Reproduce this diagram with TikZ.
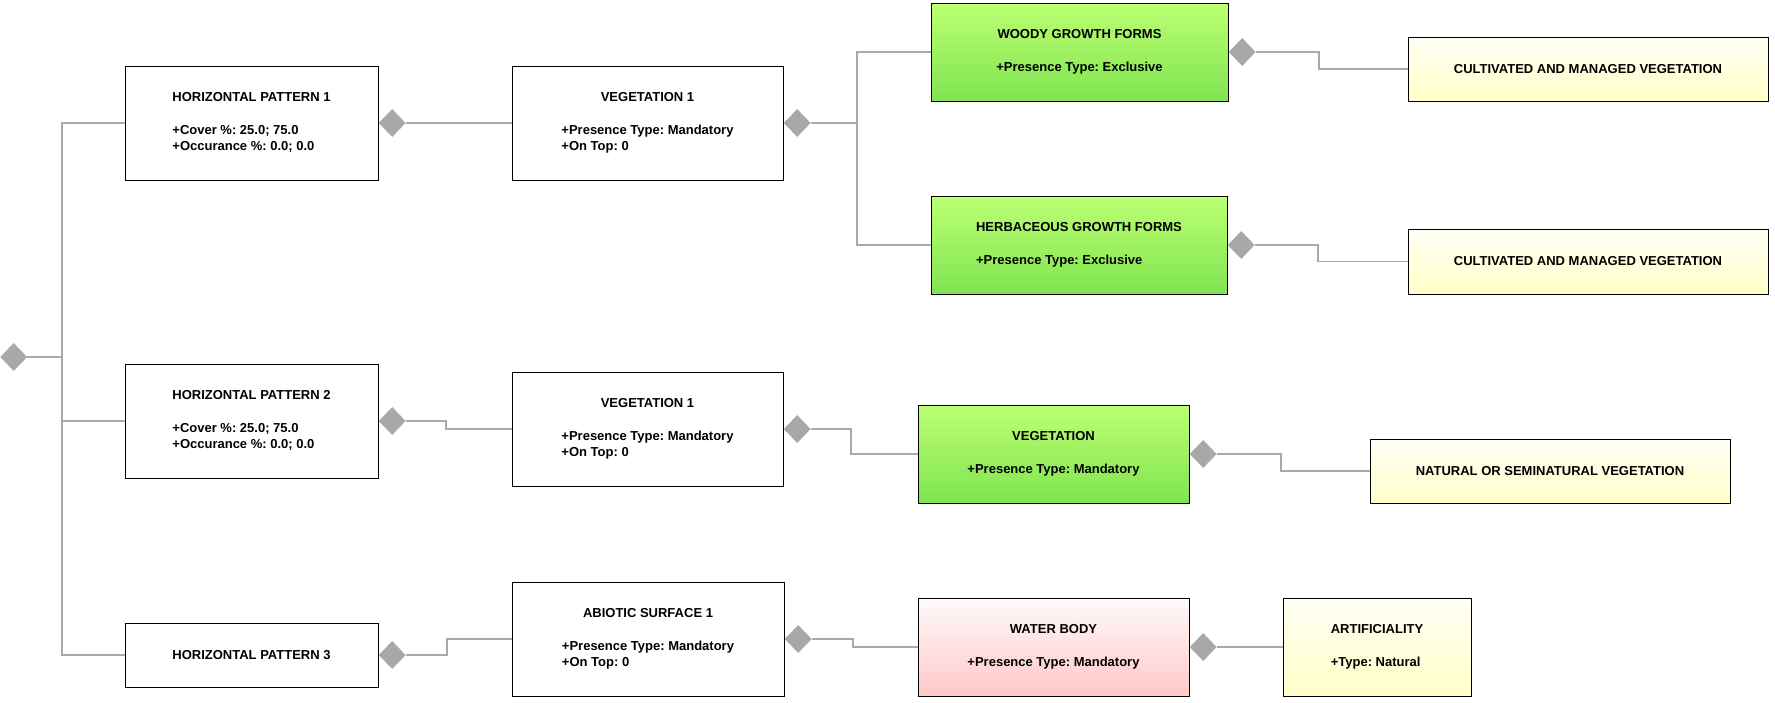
\documentclass[tikz,border=0pt]{standalone}
\usepackage{fontspec}
\setmainfont{Liberation Sans}
\frenchspacing
\usetikzlibrary{shapes.geometric}
\definecolor{linegray}{RGB}{170,170,170}
\definecolor{diagray}{RGB}{168,168,168}
\definecolor{greentop}{RGB}{188,255,115}
\definecolor{greenbot}{RGB}{128,228,80}
\definecolor{yeltop}{RGB}{255,255,245}
\definecolor{yelbot}{RGB}{255,255,200}
\definecolor{pinktop}{RGB}{255,250,250}
\definecolor{pinkbot}{RGB}{255,200,200}
\newcommand{\umltext}[2]{\begin{tabular}{@{}l@{}}\multicolumn{1}{@{}c@{}}{#1}\\[17pt] #2\end{tabular}}
\begin{document}
\begin{tikzpicture}[x=1pt,y=-1pt,
  base/.style={draw=black, line width=1pt, inner sep=0pt, align=center,
    font=\fontsize{13}{16}\selectfont\bfseries\frenchspacing},
  whitebox/.style={base, fill=white},
  greenbox/.style={base, top color=greentop, bottom color=greenbot},
  yelbox/.style={base, top color=yeltop, bottom color=yelbot},
  pinkbox/.style={base, top color=pinktop, bottom color=pinkbot},
  dia/.style={diamond, fill=diagray, draw=none, inner sep=0pt,
    minimum width=27pt, minimum height=28pt, anchor=west},
  conn/.style={draw=linegray, line width=1.4pt}
]
\useasboundingbox (0,0) rectangle (1775,702);

% boxes
\node[whitebox, minimum width=253pt, minimum height=114pt] (HP1) at (251.5,123)
  {\umltext{HORIZONTAL PATTERN 1}{+Cover \%: 25.0; 75.0\\ +Occurance \%: 0.0; 0.0}};
\node[whitebox, minimum width=271pt, minimum height=114pt] (V1a) at (647.5,123)
  {\umltext{VEGETATION 1}{+Presence Type: Mandatory\\ +On Top: 0}};
\node[greenbox, minimum width=297pt, minimum height=98pt] (Woody) at (1079.5,52)
  {\umltext{WOODY GROWTH FORMS}{+Presence Type: Exclusive}};
\node[greenbox, minimum width=296pt, minimum height=98pt] (Herb) at (1079,245)
  {\umltext{HERBACEOUS GROWTH FORMS}{+Presence Type: Exclusive}};
\node[yelbox, minimum width=360pt, minimum height=64pt] (CMV1) at (1588,69)
  {CULTIVATED AND MANAGED VEGETATION};
\node[yelbox, minimum width=360pt, minimum height=65pt] (CMV2) at (1588,261.5)
  {CULTIVATED AND MANAGED VEGETATION};

\node[whitebox, minimum width=253pt, minimum height=114pt] (HP2) at (251.5,421)
  {\umltext{HORIZONTAL PATTERN 2}{+Cover \%: 25.0; 75.0\\ +Occurance \%: 0.0; 0.0}};
\node[whitebox, minimum width=271pt, minimum height=114pt] (V1b) at (647.5,429)
  {\umltext{VEGETATION 1}{+Presence Type: Mandatory\\ +On Top: 0}};
\node[greenbox, minimum width=271pt, minimum height=98pt] (Veg) at (1053.5,454)
  {\umltext{VEGETATION}{+Presence Type: Mandatory}};
\node[yelbox, minimum width=360pt, minimum height=64pt] (Nat) at (1550,471)
  {NATURAL OR SEMINATURAL VEGETATION};

\node[whitebox, minimum width=253pt, minimum height=64pt] (HP3) at (251.5,655)
  {HORIZONTAL PATTERN 3};
\node[whitebox, minimum width=272pt, minimum height=114pt] (AS1) at (648,639)
  {\umltext{ABIOTIC SURFACE 1}{+Presence Type: Mandatory\\ +On Top: 0}};
\node[pinkbox, minimum width=271pt, minimum height=98pt] (WB) at (1053.5,647)
  {\umltext{WATER BODY}{+Presence Type: Mandatory}};
\node[yelbox, minimum width=188pt, minimum height=98pt] (Art) at (1377,647)
  {\umltext{ARTIFICIALITY}{+Type: Natural}};

% diamonds
\node[dia] (root) at (0,357) {};
\node[dia] (dHP1) at (HP1.east) {};
\node[dia] (dV1a) at (V1a.east) {};
\node[dia] (dWoody) at (Woody.east) {};
\node[dia] (dHerb) at (Herb.east) {};
\node[dia] (dHP2) at (HP2.east) {};
\node[dia] (dV1b) at (V1b.east) {};
\node[dia] (dVeg) at (Veg.east) {};
\node[dia] (dHP3) at (HP3.east) {};
\node[dia] (dAS1) at (AS1.east) {};
\node[dia] (dWB) at (WB.east) {};

% junctions
\coordinate (j0) at (62,357);
\coordinate (j1) at (857,123);

% connectors
\draw[conn] (root.east) -- (j0);
\draw[conn] (HP1.west) -| (j0) |- (HP3.west);
\draw[conn] (j0) |- (HP2.west);
\draw[conn] (dHP1.east) -- (V1a.west);
\draw[conn] (dV1a.east) -- (j1);
\draw[conn] (Woody.west) -| (j1) |- (Herb.west);
\draw[conn] (dWoody.east) -- ++(63,0) |- (CMV1.west);
\draw[conn] (dHerb.east) -- ++(63,0) |- (CMV2.west);
\draw[conn] (dHP2.east) -- ++(40,0) |- (V1b.west);
\draw[conn] (dV1b.east) -- ++(40,0) |- (Veg.west);
\draw[conn] (dVeg.east) -- ++(64,0) |- (Nat.west);
\draw[conn] (dHP3.east) -- ++(41,0) |- (AS1.west);
\draw[conn] (dAS1.east) -- ++(41,0) |- (WB.west);
\draw[conn] (dWB.east) -- (Art.west);
\end{tikzpicture}
\end{document}
